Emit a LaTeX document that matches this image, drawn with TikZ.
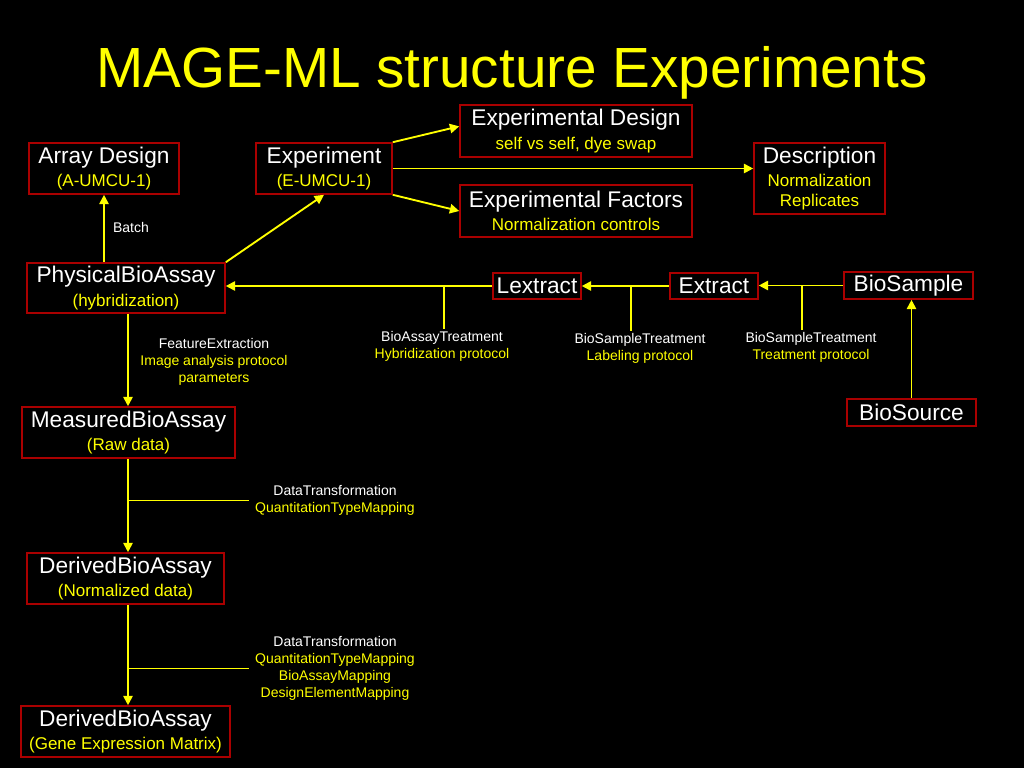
\documentclass[tikz,border=0pt]{standalone}
\usepackage{fontspec}
\setmainfont{Liberation Sans}
\usetikzlibrary{arrows.meta,positioning,calc}
\definecolor{boxred}{RGB}{170,0,0}
\definecolor{ylw}{RGB}{255,255,0}
\newcommand{\subtxt}[1]{{\color{ylw}\fontsize{12.75}{15}\selectfont #1}}
\newcommand{\ylwtxt}[1]{{\color{ylw}#1}}

\begin{document}
\begin{tikzpicture}[x=0.75pt,y=-0.75pt,
	box/.style={draw=boxred,line width=1.2pt,text=white,inner sep=0pt,align=center,font=\fontsize{17}{17.5}\selectfont},
	wh/.style 2 args={minimum width=#1*0.75pt,minimum height=#2*0.75pt},
	note/.style={text=white,align=center,inner sep=1.5pt,font=\fontsize{10.5}{12.75}\selectfont},
	link/.style={ylw,line width=1.4pt,-{Triangle[length=7pt,width=7pt]}},
	tick/.style={ylw,line width=1.4pt}]
			\fill[black] (0,0) rectangle (1024,768);
			\node[text=ylw,anchor=base,font=\fontsize{42.5}{50}\selectfont] (title) at (512,87) {MAGE-ML structure Experiments};
			\node[box,wh={150}{51}] (arraydesign) at (104,168.5) {Array Design\\\subtxt{(A-UMCU-1)}};
			\node[box,wh={136}{51}] (experiment) at (324,168.5) {Experiment\\\subtxt{(E-UMCU-1)}};
			\node[box,wh={232}{52}] (expdesign) at (576,131) {Experimental Design\\\subtxt{self vs self, dye swap}};
			\node[box,wh={232}{52}] (expfactors) at (576,211) {Experimental Factors\\\subtxt{Normalization controls}};
			\node[box,wh={131}{71}] (description) at (819.5,178.5) {Description\\\subtxt{Normalization}\\[-2.5pt]\subtxt{Replicates}};
			\node[box,wh={198}{50}] (physical) at (126,288) {PhysicalBioAssay\\\subtxt{(hybridization)}};
			\node[box,wh={88}{26}] (lextract) at (537,286) {Lextract};
			\node[box,wh={88}{26}] (extract) at (714,286) {Extract};
			\node[box,wh={129}{27}] (biosample) at (908.5,285.5) {BioSample};
			\node[box,wh={129}{27}] (biosource) at (911.5,412.5) {BioSource};
			\node[box,wh={213}{51}] (measured) at (128.5,432.5) {MeasuredBioAssay\\\subtxt{(Raw data)}};
			\node[box,wh={197}{51}] (derived) at (125.5,578.5) {DerivedBioAssay\\\subtxt{(Normalized data)}};
			\node[box,wh={209}{51}] (genematrix) at (125.5,731.5) {DerivedBioAssay\\\subtxt{(Gene Expression Matrix)}};
			\node[note] (batch) at (131,227) {Batch};
			\node[note] (bat) at (442,346.5) {BioAssayTreatment\\\ylwtxt{Hybridization protocol}};
			\node[note] (bstlabel) at (640,348.5) {BioSampleTreatment\\\ylwtxt{Labeling protocol}};
			\node[note] (bsttreat) at (811,347.5) {BioSampleTreatment\\\ylwtxt{Treatment protocol}};
			\node[note] (fe) at (214,362) {FeatureExtraction\\\ylwtxt{Image analysis protocol}\\\ylwtxt{parameters}};
			\node[note] (dtraw) at (335,500.5) {DataTransformation\\\ylwtxt{QuantitationTypeMapping}};
			\node[note] (dtnorm) at (335,668.5) {DataTransformation\\\ylwtxt{QuantitationTypeMapping}\\\ylwtxt{BioAssayMapping}\\\ylwtxt{DesignElementMapping}};
			\coordinate (spine) at (128,0);
			\coordinate (t1) at (444,0);
			\coordinate (t2) at (631,0);
			\coordinate (t3) at (802,0);
			\draw[link] (physical.north -| arraydesign.south) -- (arraydesign.south);
			\draw[link] (physical.north east) -- (experiment.south);
			\draw[link] (experiment.north east) -- ([yshift=3.5pt]expdesign.west);
			\draw[link] (experiment.east) -- (experiment.east -| description.west);
			\draw[link] (experiment.south east) -- (expfactors.west);
			\draw[link] (biosample.west) -- (biosample.west -| extract.east);
			\draw[link] (extract.west) -- (extract.west -| lextract.east);
			\draw[link] (lextract.west) -- (lextract.west -| physical.east);
			\draw[link] (biosource.north) -- (biosource.north |- biosample.south);
			\draw[tick] (t1 |- lextract.west) -- (t1 |- bat.north);
			\draw[tick] (t2 |- extract.west) -- (t2 |- bstlabel.north);
			\draw[tick] (t3 |- biosample.west) -- (t3 |- bsttreat.north);
			\draw[link] (spine |- physical.south) -- (spine |- measured.north);
			\draw[link] (spine |- measured.south) -- (spine |- derived.north);
			\draw[link] (spine |- derived.south) -- (spine |- genematrix.north);
			\draw[tick] (spine |- dtraw.west) -- ([xshift=-3pt]dtraw.west);
			\draw[tick] (spine |- dtnorm.west) -- ([xshift=-3pt]dtnorm.west);
\end{tikzpicture}
\end{document}
